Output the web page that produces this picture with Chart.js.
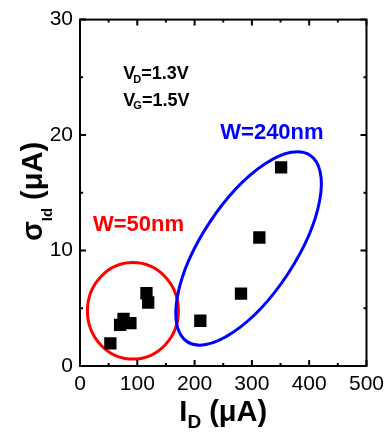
<!DOCTYPE html>
<html>
<head>
<meta charset="utf-8">
<script src="https://cdn.jsdelivr.net/npm/chart.js@4"></script>
<style>
  html, body { margin: 0; padding: 0; background: #fff; }
  #wrap { width: 390px; height: 432px; }
</style>
</head>
<body>
<div id="wrap"><canvas id="sigmaChart" width="390" height="432"></canvas></div>
<script>
// I_D (uA) vs sigma_Id (uA)
const w50Current = [53, 70, 76, 88, 116, 119];
const w50Sigma = [1.96, 3.57, 4.07, 3.72, 6.30, 5.50];
const w240Current = [210, 281, 313, 351];
const w240Sigma = [3.92, 6.27, 11.13, 17.2];

const xTickLabels = [0, 100, 200, 300, 400, 500];
const yTickLabels = [0, 10, 20, 30];

const FONT = "'Liberation Sans', Arial, sans-serif";

// group outlines + labels (centres in data units, radii in px)
const groups = [
    { text: 'W=50nm', color: '#ff0000', cx: 92.4, cy: 4.78, rx: 45.5, ry: 48.3, angle: 0, lx: 102, ly: 11.7 },
    { text: 'W=240nm', color: '#0000ff', cx: 294.2, cy: 10.18, rx: 111.6, ry: 46.8, angle: -56.6, lx: 335, ly: 19.7 }
];

function toPoints(xs, ys) {
    return xs.map((x, i) => ({ x: x, y: ys[i] }));
}

function drawRich(ctx, parts, x, y, align) {
    // parts: [text, size, dy, dx]
    const widths = parts.map(p => {
        ctx.font = 'bold ' + p[1] + 'px ' + FONT;
        return ctx.measureText(p[0]).width + (p[3] || 0);
    });
    const total = widths.reduce((a, b) => a + b, 0);
    let cx = align === 'center' ? x - total / 2 : x;
    parts.forEach((p, i) => {
        ctx.font = 'bold ' + p[1] + 'px ' + FONT;
        ctx.fillText(p[0], cx + (p[3] || 0), y + (p[2] || 0));
        cx += widths[i];
    });
}

const decorPlugin = {
    id: 'decor',
    beforeDatasetsDraw(chart) {
        const { ctx, scales: { x, y } } = chart;
        ctx.save();
        ctx.lineWidth = 3;
        groups.forEach(g => {
            ctx.strokeStyle = g.color;
            ctx.beginPath();
            ctx.ellipse(x.getPixelForValue(g.cx), y.getPixelForValue(g.cy), g.rx, g.ry, g.angle * Math.PI / 180, 0, Math.PI * 2);
            ctx.stroke();
        });
        ctx.restore();
    },
    afterDraw(chart) {
        const { ctx, chartArea: { left, right, top, bottom }, scales: { x, y } } = chart;
        ctx.save();
        ctx.strokeStyle = '#000';
        ctx.lineWidth = 2;
        ctx.strokeRect(left, top, right - left, bottom - top);

        ctx.beginPath();
        x.ticks.forEach(t => {
            const px = x.getPixelForValue(t.value);
            const len = xTickLabels.includes(t.value) ? 6 : 3;
            ctx.moveTo(px, bottom); ctx.lineTo(px, bottom - len);
            ctx.moveTo(px, top); ctx.lineTo(px, top + len);
        });
        y.ticks.forEach(t => {
            const py = y.getPixelForValue(t.value);
            const len = yTickLabels.includes(t.value) ? 6 : 3;
            ctx.moveTo(left, py); ctx.lineTo(left + len, py);
            ctx.moveTo(right, py); ctx.lineTo(right - len, py);
        });
        ctx.stroke();

        ctx.fillStyle = '#000';
        ctx.textBaseline = 'alphabetic';

        // axis titles
        drawRich(ctx, [['I', 29], ['D', 19, 7], [' (\u03bcA)', 29]], (left + right) / 2, 421, 'center');
        ctx.save();
        ctx.translate(41.7, 191.5);
        ctx.rotate(-Math.PI / 2);
        drawRich(ctx, [['\u03c3', 29], ['Id', 15, 10], [' (\u03bcA)', 29]], 0, 0, 'center');
        ctx.restore();

        // bias conditions
        const bx = x.getPixelForValue(75.6);
        drawRich(ctx, [['V', 18], ['D', 11, 3.5, -2], ['=1.3V', 18]], bx, y.getPixelForValue(24.82), 'left');
        drawRich(ctx, [['V', 18], ['G', 11, 3.5, -2], ['=1.5V', 18]], bx, y.getPixelForValue(22.52), 'left');

        groups.forEach(g => {
            ctx.fillStyle = g.color;
            drawRich(ctx, [[g.text, 22]], x.getPixelForValue(g.lx), y.getPixelForValue(g.ly), 'center');
        });
        ctx.restore();
    }
};

const ctx = document.getElementById('sigmaChart');

new Chart(ctx, {
    type: 'scatter',
    data: {
        datasets: [
            { label: 'W=50nm', data: toPoints(w50Current, w50Sigma) },
            { label: 'W=240nm', data: toPoints(w240Current, w240Sigma) }
        ]
    },
    options: {
        responsive: false,
        animation: false,
        layout: { padding: { top: 18, right: 18, left: 0, bottom: 0 } },
        elements: {
            point: {
                pointStyle: 'rect',
                radius: 8.7,
                hoverRadius: 8.7,
                backgroundColor: '#000',
                borderWidth: 0
            }
        },
        plugins: {
            legend: { display: false },
            tooltip: { enabled: false }
        },
        scales: {
            x: {
                type: 'linear',
                min: 0,
                max: 500,
                afterFit: s => { s.height = 66; },
                grid: { display: false, drawTicks: false },
                border: { display: false },
                ticks: {
                    stepSize: 50,
                    autoSkip: false,
                    maxRotation: 0,
                    padding: 6,
                    color: '#000',
                    font: { family: FONT, size: 21 },
                    callback: v => xTickLabels.includes(v) ? String(v) : ''
                }
            },
            y: {
                type: 'linear',
                min: 0,
                max: 30,
                afterFit: s => { s.width = 80; },
                grid: { display: false, drawTicks: false },
                border: { display: false },
                ticks: {
                    stepSize: 5,
                    autoSkip: false,
                    padding: 7,
                    color: '#000',
                    font: { family: FONT, size: 21 },
                    callback: v => yTickLabels.includes(v) ? String(v) : ''
                }
            }
        }
    },
    plugins: [decorPlugin]
});
</script>
</body>
</html>
